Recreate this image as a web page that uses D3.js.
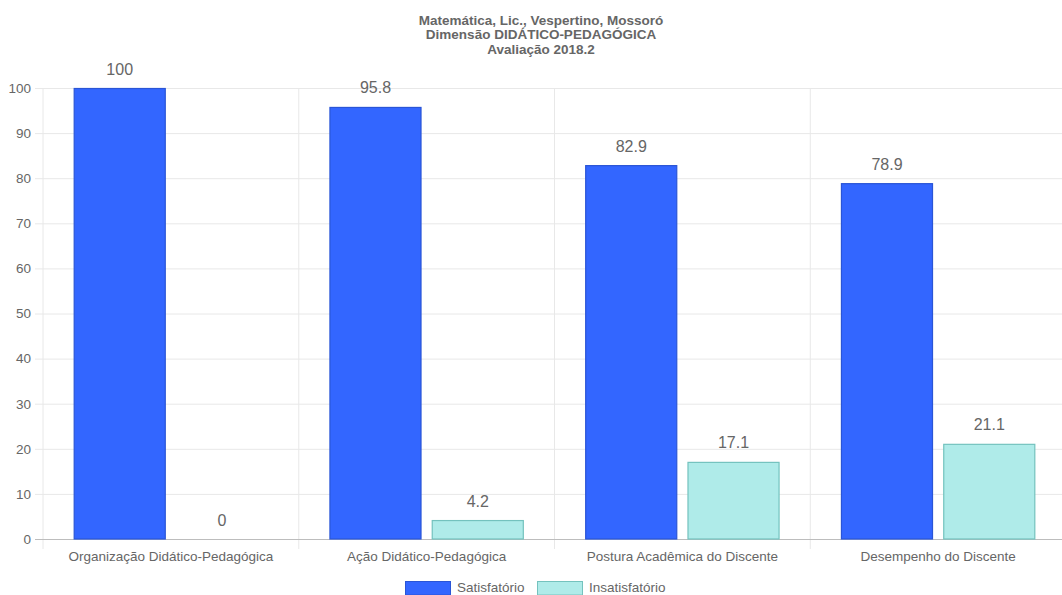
<!DOCTYPE html>
<html>
<head>
<meta charset="utf-8">
<script src="https://cdn.jsdelivr.net/npm/d3@7"></script>
<style>
  html, body { margin: 0; padding: 0; background: #fff; }
  svg { display: block; font-family: "Liberation Sans", Arial, Helvetica, sans-serif; }
</style>
</head>
<body>
<svg id="chart" width="1062" height="595"></svg>
<script>
// Chart data
const titleLines = ["Matemática, Lic., Vespertino, Mossoró", "Dimensão DIDÁTICO-PEDAGÓGICA", "Avaliação 2018.2"];
const categories = ["Organização Didático-Pedagógica", "Ação Didático-Pedagógica", "Postura Acadêmica do Discente", "Desempenho do Discente"];
const seriesNames = ["Satisfatório", "Insatisfatório"];
const satisfatorio = [100, 95.8, 82.9, 78.9];
const insatisfatorio = [0, 4.2, 17.1, 21.1];
const yTicks = [0, 10, 20, 30, 40, 50, 60, 70, 80, 90, 100];

const fills = ["#3366ff", "#afebe9"];
const strokes = ["#2a55d6", "#74c2be"];
const textColor = "#666";
const fontSize = 13.5;

const svg = d3.select("#chart");
const margin = { left: 43, top: 88 };
const plotW = 1023;
const y0 = 539;

const x = d3.scaleBand().domain(categories).range([margin.left, margin.left + plotW]).paddingInner(0).paddingOuter(0);
const xInner = d3.scaleBand().domain(seriesNames).range([0, x.bandwidth() * 0.8]).padding(0);
const y = d3.scaleLinear().domain([0, 100]).range([y0, margin.top]);

// Title
svg.append("g").selectAll("text").data(titleLines).join("text")
  .attr("x", 541).attr("y", (d, i) => 24.5 + i * 14.5)
  .attr("text-anchor", "middle")
  .attr("font-size", fontSize).attr("font-weight", "bold").attr("fill", textColor)
  .text(d => d);

// Horizontal grid lines and y tick labels
const yAxis = d3.axisLeft(y).tickValues(yTicks).tickSize(-plotW).tickPadding(12);
const gy = svg.append("g").attr("transform", `translate(${margin.left},0)`).call(yAxis);
gy.select(".domain").remove();
gy.selectAll(".tick line").attr("stroke", "#e8e8e8").attr("x1", -8);
gy.selectAll(".tick text").attr("fill", textColor).attr("font-size", fontSize)
  .attr("font-family", "Liberation Sans, Arial, sans-serif");

// Vertical grid lines between categories
const vLines = categories.map(c => x(c));
svg.append("g").selectAll("line").data(vLines).join("line")
  .attr("x1", d => d).attr("x2", d => d)
  .attr("y1", margin.top).attr("y2", y0 + 10)
  .attr("stroke", "#e8e8e8").attr("stroke-width", 1);

// Baseline
svg.append("line").attr("x1", margin.left - 8).attr("x2", margin.left + plotW)
  .attr("y1", y0 + 0.5).attr("y2", y0 + 0.5).attr("stroke", "#bdbdbd");

// Category labels
svg.append("g").selectAll("text").data(categories).join("text")
  .attr("x", d => x(d) + x.bandwidth() / 2).attr("y", 560.5)
  .attr("text-anchor", "middle").attr("font-size", fontSize).attr("fill", textColor)
  .text(d => d);

// Bars with value labels
const seriesData = [satisfatorio, insatisfatorio];
const barW = xInner.bandwidth() * 0.9;
seriesData.forEach((vals, s) => {
  const g = svg.append("g");
  const data = categories.map((c, i) => ({ c, v: vals[i] }));
  const bx = d => x(d.c) + x.bandwidth() * 0.1 + xInner(seriesNames[s]) + (xInner.bandwidth() - barW) / 2;
  g.selectAll("rect").data(data.filter(d => d.v > 0)).join("rect")
    .attr("x", d => bx(d) + 0.5).attr("width", barW - 1)
    .attr("y", d => y(d.v) + 0.5).attr("height", d => y0 - y(d.v) - 0.5)
    .attr("fill", fills[s]).attr("stroke", strokes[s]).attr("stroke-width", 1.2);
  g.selectAll("text").data(data).join("text")
    .attr("x", d => bx(d) + barW / 2).attr("y", d => y(d.v) - 13.5)
    .attr("text-anchor", "middle").attr("font-size", 16).attr("fill", textColor)
    .text(d => d.v);
});

// Legend
const legendItems = [
  { name: seriesNames[0], x: 405, tx: 457 },
  { name: seriesNames[1], x: 537, tx: 589 }
];
const lg = svg.append("g");
legendItems.forEach((it, i) => {
  lg.append("rect").attr("x", it.x + 0.5).attr("y", 581.5).attr("width", 45).attr("height", 13.5)
    .attr("fill", fills[i]).attr("stroke", strokes[i]).attr("stroke-width", 1);
  lg.append("text").attr("x", it.tx).attr("y", 592).attr("font-size", fontSize).attr("fill", textColor).text(it.name);
});
</script>
</body>
</html>
